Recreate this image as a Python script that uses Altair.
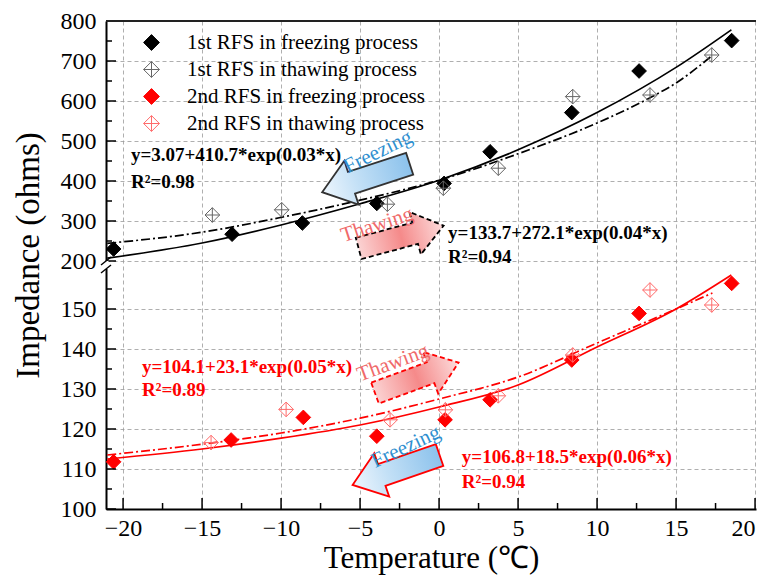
import altair as alt
import pandas as pd

FONT = "Liberation Serif"

series_names = ["1st RFS in freezing process", "1st RFS in thawing process",
                "2nd RFS in freezing process", "2nd RFS in thawing process"]

f1_x = [-20.6, -13.1, -8.65, -3.94, 0.32, 3.23, 8.4, 12.66, 18.52]
f1_y = [230, 267, 295, 344, 394, 473, 571, 675, 751]
t1_x = [-14.35, -9.96, -3.27, 0.27, 3.75, 8.46, 13.35, 17.26]
t1_y = [315, 328, 342, 382, 432, 611, 615, 715]
f2_x = [-20.6, -13.16, -8.59, -3.94, 0.38, 3.23, 8.4, 12.66, 18.52]
f2_y = [111.8, 117.25, 122.9, 118.2, 122.3, 127.3, 137.25, 148.9, 156.4]
t2_x = [-14.43, -9.68, -3.1, 0.4, 3.75, 8.46, 13.35, 17.26]
t2_y = [116.6, 124.9, 122.3, 124.8, 128.3, 138.5, 154.75, 151.0]

# ---------------- fitted curves ----------------
fit1f_x = [-21, -15, -10, -5, 0, 5, 10, 15, 18.5]
fit1f_y = [207, 245, 290, 343, 402, 478, 571, 684, 778]
fit1t_x = [-21, -15, -10, -5, 0, 5, 10, 13.35, 15, 17.3]
fit1t_y = [244, 272, 309, 352, 402, 468, 545, 608, 645, 714]
fit2f_x = [-21, -15, -10, -5, 0, 5, 10, 15, 18.5]
fit2f_y = [112.5, 115, 117.7, 121, 125.5, 131, 140.5, 150, 158.5]
fit2t_x = [-21, -15, -10, -5, 0, 5, 10, 15, 17.3]
fit2t_y = [113.5, 116.2, 119, 122.7, 127.5, 133, 141.5, 150, 154]

# ---------------- annotations ----------------
eq_text = ["y=3.07+410.7*exp(0.03*x)", "R²=0.98",
           "y=133.7+272.1*exp(0.04*x)", "R²=0.94",
           "y=104.1+23.1*exp(0.05*x)", "R²=0.89",
           "y=106.8+18.5*exp(0.06*x)", "R²=0.94"]
eq_x = [-19.5, -19.5, 0.57, 0.57, -18.8, -18.8, 1.44, 1.44]
eq_y = [465, 397.5, 270, 210, 135.6, 129.75, 113.1, 106.8]
eq_color = ["black", "black", "black", "black", "red", "red", "red", "red"]

lab_text = ["Freezing", "Thawing", "Thawing", "Freezing"]
lab_x = [-3.86, -3.92, -2.91, -2.09]
lab_y = [472.5, 290, 136.5, 115.5]
lab_angle = [334, 342, 340, 335]
lab_color = ["#2f8fd0", "#f06a6a", "#f06a6a", "#2f8fd0"]

arrow_x = [-4.63, -2.4, -1.41, -2.72]
arrow_y = [407.5, 260, 132.8, 109.75]
arrow_angle = [162, 345, 340, 161]
arrow_len = [92, 88, 89, 92]
arrow_kind = ["freeze", "thaw", "thaw", "freeze"]
arrow_stroke = ["#333333", "black", "red", "red"]
arrow_dash = [False, True, True, False]

# axis ticks
y_major = [100, 110, 120, 130, 140, 150, 200, 300, 400, 500, 600, 700, 800]
y_minor = [105, 115, 125, 135, 145, 155, 250, 350, 450, 550, 650, 750]
x_major = [-20, -15, -10, -5, 0, 5, 10, 15, 20]
x_minor = [-17.5, -12.5, -7.5, -2.5, 2.5, 7.5, 12.5, 17.5]
y_break = [160, 200]

# ---------------- broken y axis mapping ----------------
YEXPR = "datum.y < 180 ? (datum.y - 100) * 4 : 248 + (datum.y - 200) * 0.4"


def to_px(v):
    return (v - 100) * 4 if v < 180 else 248 + (v - 200) * 0.4


W, H = 650, 488
xscale = alt.Scale(domain=[-21.08, 20.06], nice=False, zero=False)
yscale = alt.Scale(domain=[0, H], nice=False, zero=False)

label_expr = ("datum.value < 244 ? format(100 + datum.value / 4, 'd') : "
              "format(200 + (datum.value - 248) * 2.5, 'd')")

xaxis = alt.Axis(values=x_major, title="Temperature (℃)", grid=True, gridDash=[4, 3],
                 gridColor="#9a9a9a", gridWidth=0.8, ticks=False, tickSize=0,
                 domain=True, domainColor="black", domainWidth=2,
                 labelFont=FONT, labelFontSize=24, labelColor="black", labelPadding=7,
                 labelFlush=2,
                 titleFont=FONT, titleFontSize=31, titleFontWeight="normal",
                 titleColor="black", titlePadding=3)
yaxis = alt.Axis(values=[to_px(v) for v in y_major], labelExpr=label_expr,
                 title="Impedance (ohms)", grid=True, gridDash=[4, 3],
                 gridColor="#9a9a9a", gridWidth=0.8, ticks=False, tickSize=0,
                 domain=True, domainColor="black", domainWidth=2,
                 labelFont=FONT, labelFontSize=24, labelColor="black", labelPadding=10,
                 titleFont=FONT, titleFontSize=33, titleFontWeight="normal",
                 titleColor="black", titleX=-78, titleY=234, titleBaseline="middle")


def X(field="x"):
    return alt.X(f"{field}:Q", scale=xscale, axis=xaxis)


def Y(field="yp"):
    return alt.Y(f"{field}:Q", scale=yscale, axis=yaxis)


# ---------------- points ----------------
pts = pd.DataFrame({
    "x": f1_x + t1_x + f2_x + t2_x,
    "y": f1_y + t1_y + f2_y + t2_y,
    "series": [series_names[0]] * len(f1_x) + [series_names[1]] * len(t1_x)
    + [series_names[2]] * len(f2_x) + [series_names[3]] * len(t2_x),
})
CROSS = "M0,-1L1,0L0,1L-1,0Z M-1,0L1,0 M0,-1L0,1"
leg = alt.Legend(title=None, orient="none", legendX=35, legendY=11, labelFont=FONT,
                 labelFontSize=21, labelColor="black", symbolSize=250,
                 symbolStrokeWidth=1, labelOffset=25, rowPadding=5, padding=0,
                 labelLimit=400)
points = alt.Chart(pts).transform_calculate(yp=YEXPR).mark_point(
    filled=True, opacity=1, size=215, strokeWidth=1).encode(
    x=X(), y=Y(),
    shape=alt.Shape("series:N", scale=alt.Scale(domain=series_names,
                    range=["diamond", CROSS, "diamond", CROSS]), legend=leg),
    fill=alt.Fill("series:N", scale=alt.Scale(domain=series_names,
                  range=["black", "transparent", "red", "transparent"]), legend=leg),
    stroke=alt.Stroke("series:N", scale=alt.Scale(domain=series_names,
                      range=["black", "#666666", "red", "#ff6b6b"]), legend=leg),
)

# ---------------- curves ----------------
DASHDOT = [9, 3, 2, 3]


def curve(xs, ys, color, dash):
    df = pd.DataFrame({"x": xs, "y": ys})
    kw = dict(color=color, strokeWidth=1.7, interpolate="monotone")
    if dash:
        kw["strokeDash"] = DASHDOT
    return alt.Chart(df).transform_calculate(yp=YEXPR).mark_line(**kw).encode(x=X(), y=Y())


curves = [curve(fit1f_x, fit1f_y, "black", False), curve(fit1t_x, fit1t_y, "black", True),
          curve(fit2f_x, fit2f_y, "red", False), curve(fit2t_x, fit2t_y, "red", True)]

# ---------------- arrows ----------------
ARROW = "M-1,-0.25L0.33,-0.25L0.33,-0.5L1,0L0.33,0.5L0.33,0.25L-1,0.25Z"
blue = alt.LinearGradient(gradient="linear", x1=0, y1=0, x2=1, y2=0, stops=[
    alt.GradientStop(color="#8cc2ec", offset=0), alt.GradientStop(color="#c3e0f6", offset=0.6),
    alt.GradientStop(color="#eef6fd", offset=1)])
pink = alt.LinearGradient(gradient="linear", x1=0, y1=0, x2=1, y2=0, stops=[
    alt.GradientStop(color="#fbd3d3", offset=0), alt.GradientStop(color="#f58a8a", offset=0.5),
    alt.GradientStop(color="#fcdcdc", offset=1)])
arrows = []
for i in range(len(arrow_x)):
    df = pd.DataFrame({"x": [arrow_x[i]], "y": [arrow_y[i]]})
    kw = dict(shape=ARROW, size=arrow_len[i] ** 2, angle=arrow_angle[i], filled=True,
              fill=blue if arrow_kind[i] == "freeze" else pink, stroke=arrow_stroke[i],
              strokeWidth=1.8, opacity=1)
    if arrow_dash[i]:
        kw["strokeDash"] = [5, 3]
    arrows.append(alt.Chart(df).transform_calculate(yp=YEXPR).mark_point(**kw).encode(x=X(), y=Y()))

labs = alt.Chart(pd.DataFrame({"x": lab_x, "y": lab_y, "t": lab_text, "a": lab_angle,
                               "c": lab_color})).transform_calculate(yp=YEXPR).mark_text(
    font=FONT, fontSize=21, align="center", baseline="middle").encode(
    x=X(), y=Y(), text="t:N", angle=alt.Angle("a:Q", scale=None), color=alt.Color("c:N", scale=None))

eqs = alt.Chart(pd.DataFrame({"x": eq_x, "y": eq_y, "t": eq_text, "c": eq_color})).transform_calculate(
    yp=YEXPR).mark_text(font=FONT, fontSize=19, fontWeight="bold", align="left",
                        baseline="middle").encode(
    x=X(), y=Y(), text="t:N", color=alt.Color("c:N", scale=None))

# ---------------- inward ticks, frame, axis break ----------------
def yticks(vals, length):
    return alt.Chart(pd.DataFrame({"y": vals})).transform_calculate(yp=YEXPR).mark_rule(
        color="black", strokeWidth=1.5).encode(y=Y(), x=alt.value(0), x2=alt.value(length))


def xticks(vals, length):
    return alt.Chart(pd.DataFrame({"x": vals})).mark_rule(color="black", strokeWidth=1.5).encode(
        x=X(), y=alt.value(H), y2=alt.value(H - length))


top = alt.Chart(pd.DataFrame({"y": [800]})).transform_calculate(yp=YEXPR).mark_rule(
    color="#222222", strokeWidth=2).encode(y=Y(), x=alt.value(0), x2=alt.value(W))

brk = pd.DataFrame({"y": [y_break[0]], "y2v": [y_break[1]]})
cover = alt.Chart(brk).transform_calculate(yp=YEXPR, yp2="248 + (datum.y2v - 200) * 0.4").mark_rule(
    color="white", strokeWidth=5).encode(y=Y(), y2="yp2:Q", x=alt.value(0))
slashes = alt.Chart(pd.DataFrame({"y": y_break})).transform_calculate(yp=YEXPR).mark_rule(
    color="black", strokeWidth=1.5, yOffset=4, y2Offset=-4).encode(
    y=Y(), y2="yp:Q", x=alt.value(-5), x2=alt.value(5))

chart = alt.layer(
    *curves, *arrows, labs, eqs, points,
    yticks(y_major, 10), yticks(y_minor, 6), xticks(x_major, 11), xticks(x_minor, 6),
    top, cover, slashes,
).properties(
    width=W, height=H,
    padding={"left": 98, "top": 13, "right": 2, "bottom": 69},
    autosize=alt.AutoSizeParams(type="none"),
    background="white",
).configure_view(stroke=None)

chart.save("out.html", embed_options={"renderer": "svg", "actions": False})
